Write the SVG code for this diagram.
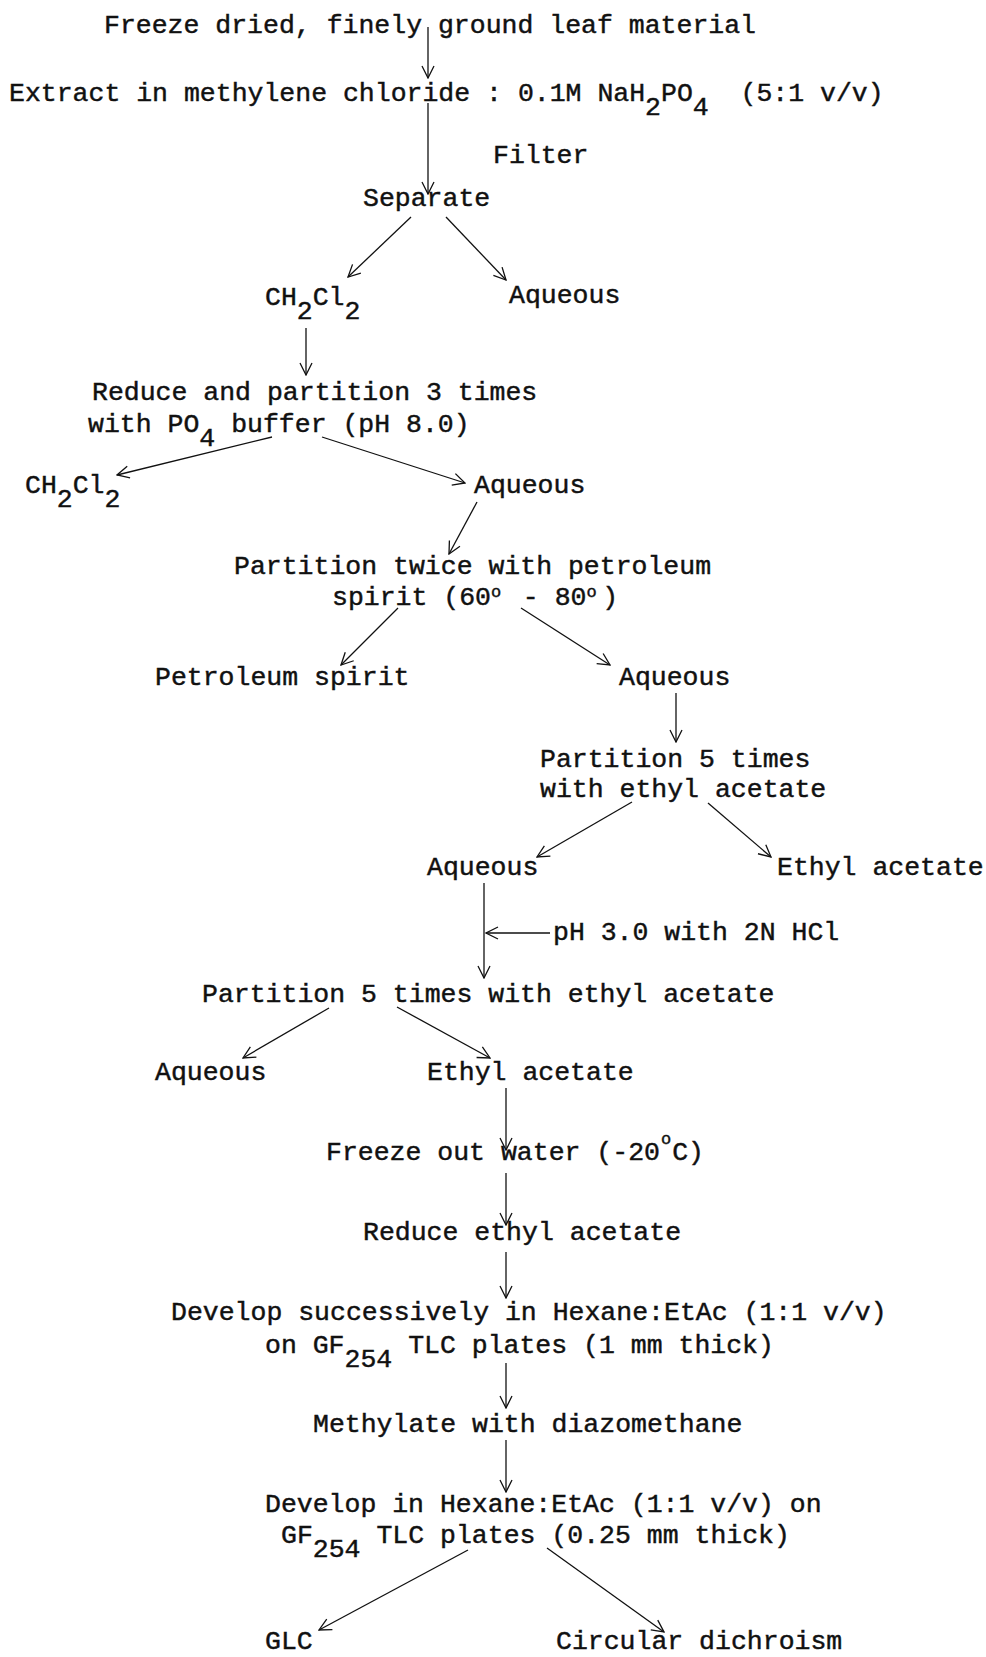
<svg xmlns="http://www.w3.org/2000/svg" width="986" height="1657" viewBox="0 0 986 1657">
<style>
.t{font-family:"Liberation Mono","Courier New",monospace;font-size:26.5px;fill:#111;stroke:#111;stroke-width:0.45;}
.c line{stroke:#111;stroke-width:1.3;fill:none;marker-end:url(#ah);}
</style>
<defs>
<marker id="ah" viewBox="0 0 14 14" refX="13" refY="7" markerWidth="14" markerHeight="14" markerUnits="userSpaceOnUse" orient="auto">
<path d="M1,1 L13,7 L1,13" fill="none" stroke="#111" stroke-width="1.3"/>
</marker>
</defs>
<rect width="986" height="1657" fill="#fff"/>
<g id="n1"><text class="t" x="104" y="33">Freeze dried, finely ground leaf material</text></g>
<g id="n2"><text class="t" x="9" y="101" xml:space="preserve">Extract in methylene chloride : 0.1M NaH<tspan dy="14">2</tspan><tspan dy="-14">PO</tspan><tspan dy="14">4</tspan><tspan dy="-14">  (5:1 v/v)</tspan></text></g>
<g id="n3"><text class="t" x="493" y="163">Filter</text></g>
<g id="n4"><text class="t" x="363" y="206">Separate</text></g>
<g id="n5"><text class="t" x="265" y="305">CH<tspan dy="14">2</tspan><tspan dy="-14">Cl</tspan><tspan dy="14">2</tspan></text></g>
<g id="n6"><text class="t" x="509" y="303">Aqueous</text></g>
<g id="n7"><text class="t" x="92" y="400">Reduce and partition 3 times</text><text class="t" x="88" y="432" xml:space="preserve">with PO<tspan dy="14">4</tspan><tspan dy="-14"> buffer (pH 8.0)</tspan></text></g>
<g id="n8"><text class="t" x="25" y="493">CH<tspan dy="14">2</tspan><tspan dy="-14">Cl</tspan><tspan dy="14">2</tspan></text></g>
<g id="n9"><text class="t" x="474" y="493">Aqueous</text></g>
<g id="n10"><text class="t" x="234" y="574">Partition twice with petroleum</text><text class="t" x="332" y="605" xml:space="preserve">spirit (60<tspan dy="-8" font-size="17">o</tspan><tspan dy="8" dx="5.7"> - 80</tspan><tspan dy="-8" font-size="17">o</tspan><tspan dy="8" dx="5.7">)</tspan></text></g>
<g id="n11"><text class="t" x="155" y="685">Petroleum spirit</text></g>
<g id="n12"><text class="t" x="619" y="685">Aqueous</text></g>
<g id="n13"><text class="t" x="540" y="767">Partition 5 times</text><text class="t" x="540" y="797">with ethyl acetate</text></g>
<g id="n14"><text class="t" x="427" y="875">Aqueous</text></g>
<g id="n15"><text class="t" x="777" y="875">Ethyl acetate</text></g>
<g id="n16"><text class="t" x="553" y="940">pH 3.0 with 2N HCl</text></g>
<g id="n17"><text class="t" x="202" y="1002">Partition 5 times with ethyl acetate</text></g>
<g id="n18"><text class="t" x="155" y="1080">Aqueous</text></g>
<g id="n19"><text class="t" x="427" y="1080">Ethyl acetate</text></g>
<g id="n20"><text class="t" x="326" y="1160">Freeze out water (-20<tspan dy="-16" dx="1" font-size="17">o</tspan><tspan dy="16" dx="1">C)</tspan></text></g>
<g id="n21"><text class="t" x="363" y="1240">Reduce ethyl acetate</text></g>
<g id="n22"><text class="t" x="171" y="1320">Develop successively in Hexane:EtAc (1:1 v/v)</text><text class="t" x="265" y="1353" xml:space="preserve">on GF<tspan dy="14">254</tspan><tspan dy="-14"> TLC plates (1 mm thick)</tspan></text></g>
<g id="n23"><text class="t" x="313" y="1432">Methylate with diazomethane</text></g>
<g id="n24"><text class="t" x="265" y="1512">Develop in Hexane:EtAc (1:1 v/v) on</text><text class="t" x="281" y="1543" xml:space="preserve">GF<tspan dy="14">254</tspan><tspan dy="-14"> TLC plates (0.25 mm thick)</tspan></text></g>
<g id="n25"><text class="t" x="265" y="1649">GLC</text></g>
<g id="n26"><text class="t" x="556" y="1649">Circular dichroism</text></g>
<g id="connectors" class="c">
<line x1="428" y1="27" x2="428" y2="78"/>
<line x1="428" y1="103" x2="428" y2="194"/>
<line x1="411" y1="217" x2="348" y2="277"/>
<line x1="446" y1="217" x2="506" y2="280"/>
<line x1="306" y1="328" x2="306" y2="375"/>
<line x1="272" y1="437" x2="117" y2="475"/>
<line x1="322" y1="437" x2="465" y2="483"/>
<line x1="477" y1="502" x2="449" y2="554"/>
<line x1="398" y1="608" x2="341" y2="665"/>
<line x1="521" y1="608" x2="610" y2="665"/>
<line x1="676" y1="693" x2="676" y2="742"/>
<line x1="632" y1="802" x2="537" y2="857"/>
<line x1="708" y1="803" x2="771" y2="857"/>
<line x1="484" y1="883" x2="484" y2="978"/>
<line x1="550" y1="933" x2="486" y2="933"/>
<line x1="329" y1="1008" x2="243" y2="1058"/>
<line x1="397" y1="1007" x2="490" y2="1058"/>
<line x1="506" y1="1088" x2="506" y2="1150"/>
<line x1="506" y1="1173" x2="506" y2="1225"/>
<line x1="506" y1="1252" x2="506" y2="1298"/>
<line x1="506" y1="1363" x2="506" y2="1408"/>
<line x1="506" y1="1440" x2="506" y2="1492"/>
<line x1="468" y1="1550" x2="319" y2="1630"/>
<line x1="547" y1="1548" x2="664" y2="1632"/>
</g>
</svg>
